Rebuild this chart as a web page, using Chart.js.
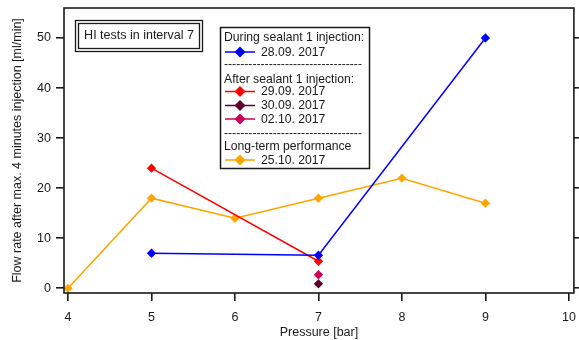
<!DOCTYPE html>
<html>
<head>
<meta charset="utf-8">
<script src="https://cdn.jsdelivr.net/npm/chart.js@4.4.0/dist/chart.umd.min.js"></script>
<style>
html,body{margin:0;padding:0;background:#fff}
#wrap{width:579px;height:340px}
</style>
</head>
<body>
<div id="wrap"><canvas id="graph"></canvas></div>
<script>
// values
const xTicks=[4,5,6,7,8,9,10];
const yTicks=[0,10,20,30,40,50];

const names=['28.09. 2017','29.09. 2017','30.09. 2017','02.10. 2017','25.10. 2017'];
const colors=['#0000ff','#ff0000','#5c0030','#cc0055','#ffa500'];

const p0928=[5,7,9],       q0928=[7,6.6,50];
const p0929=[5,7],         q0929=[24,5.4];
const p0930=[7],           q0930=[0.9];
const p1002=[7],           q1002=[2.7];
const p1025=[4,5,6,7,8,9], q1025=[0,18,14,18,22,17];

const pressures=[p0928,p0929,p0930,p1002,p1025];
const flows=[q0928,q0929,q0930,q1002,q1025];

// legend layout: header text, separators and entries (index into names)
const legendRows=[
  'During sealant 1 injection:',0,'----------------------------------',
  'After sealant 1 injection:',1,2,3,'----------------------------------',
  'Long-term performance',4
];
const legendY=[37,52,64,79,91.5,105.5,119,133.5,146.5,160];

const FONT='"Liberation Sans", Arial, sans-serif';
const INK='#1a1a1a';

const datasets=names.map((n,i)=>({
  label:n,
  data:pressures[i].map((x,j)=>({x:x,y:flows[i][j]})),
  borderColor:colors[i],
  backgroundColor:colors[i],
  pointStyle:'rectRot',
  pointRadius:3.6,
  pointHoverRadius:3.6,
  borderWidth:1.5,
  showLine:true,
  fill:false
}));

function diamond(ctx,x,y,r,col){
  ctx.fillStyle=col;
  ctx.beginPath();
  ctx.moveTo(x,y-r);ctx.lineTo(x+r,y);ctx.lineTo(x,y+r);ctx.lineTo(x-r,y);
  ctx.closePath();ctx.fill();
}

const boxes={
  id:'boxes',
  afterDraw(chart){
    const ctx=chart.ctx, a=chart.chartArea;
    ctx.save();
    // plot frame
    ctx.strokeStyle=INK;ctx.lineWidth=1.6;
    ctx.strokeRect(a.left,a.top,a.right-a.left,a.bottom-a.top);

    // title box, double border
    ctx.lineWidth=1.3;
    ctx.strokeRect(75.5,20.5,127,31);
    ctx.strokeRect(78.5,23.5,121,25);
    ctx.fillStyle=INK;
    ctx.font='12.5px '+FONT;
    ctx.textAlign='center';ctx.textBaseline='middle';
    ctx.fillText('HI tests in interval 7',139,36);

    // legend box
    ctx.fillStyle='#fff';
    ctx.fillRect(220,27,150,142);
    ctx.lineWidth=1.5;ctx.strokeStyle=INK;
    ctx.strokeRect(220.5,27.5,149,141);
    ctx.textAlign='left';
    ctx.font='12.2px '+FONT;
    legendRows.forEach((r,k)=>{
      const y=legendY[k];
      if(typeof r==='number'){
        ctx.strokeStyle=colors[r];ctx.lineWidth=1.5;
        ctx.beginPath();ctx.moveTo(225,y);ctx.lineTo(255,y);ctx.stroke();
        diamond(ctx,240,y,5.5,colors[r]);
        ctx.fillStyle=INK;
        ctx.fillText(names[r],261,y+0.5);
      }else{
        ctx.fillStyle=INK;
        ctx.fillText(r,224,y+0.5);
      }
    });
    ctx.restore();
  }
};

new Chart(document.getElementById('graph'),{
  type:'scatter',
  data:{datasets:datasets},
  options:{
    responsive:true,
    maintainAspectRatio:false,
    animation:false,
    layout:{padding:{top:8,right:0,left:0,bottom:0}},
    plugins:{legend:{display:false},tooltip:{enabled:false}},
    scales:{
      x:{
        type:'linear',min:3.952,max:10.06,
        afterBuildTicks:s=>{s.ticks=xTicks.map(v=>({value:v}));},
        afterFit:s=>{s.height=47;s.paddingLeft=0;s.paddingRight=0;},
        border:{display:false},
        grid:{drawOnChartArea:false,drawTicks:true,tickLength:8,color:INK,lineWidth:1.6},
        ticks:{color:INK,font:{family:FONT,size:12.5},padding:9,maxRotation:0},
        title:{display:true,text:'Pressure [bar]',color:INK,font:{family:FONT,size:12.5},padding:{top:1,bottom:0}}
      },
      y:{
        type:'linear',position:'left',min:-0.94,max:56,
        afterBuildTicks:s=>{s.ticks=yTicks.map(v=>({value:v}));},
        afterFit:s=>{s.width=64;s.paddingTop=0;s.paddingBottom=0;},
        border:{display:false},
        grid:{drawOnChartArea:false,drawTicks:true,tickLength:8,color:INK,lineWidth:1.6},
        ticks:{color:INK,font:{family:FONT,size:12.5},padding:5},
        title:{display:true,text:'Flow rate after max. 4 minutes injection [ml/min]',color:INK,font:{family:FONT,size:12.5},padding:{top:10,bottom:0}}
      },
      y2:{
        type:'linear',position:'right',min:-0.94,max:56,
        afterBuildTicks:s=>{s.ticks=yTicks.map(v=>({value:v}));},
        afterFit:s=>{s.width=5;s.paddingTop=0;s.paddingBottom=0;},
        border:{display:false},
        grid:{drawOnChartArea:false,drawTicks:true,tickLength:5,color:INK,lineWidth:1.6},
        ticks:{display:false}
      }
    }
  },
  plugins:[boxes]
});
</script>
</body>
</html>
